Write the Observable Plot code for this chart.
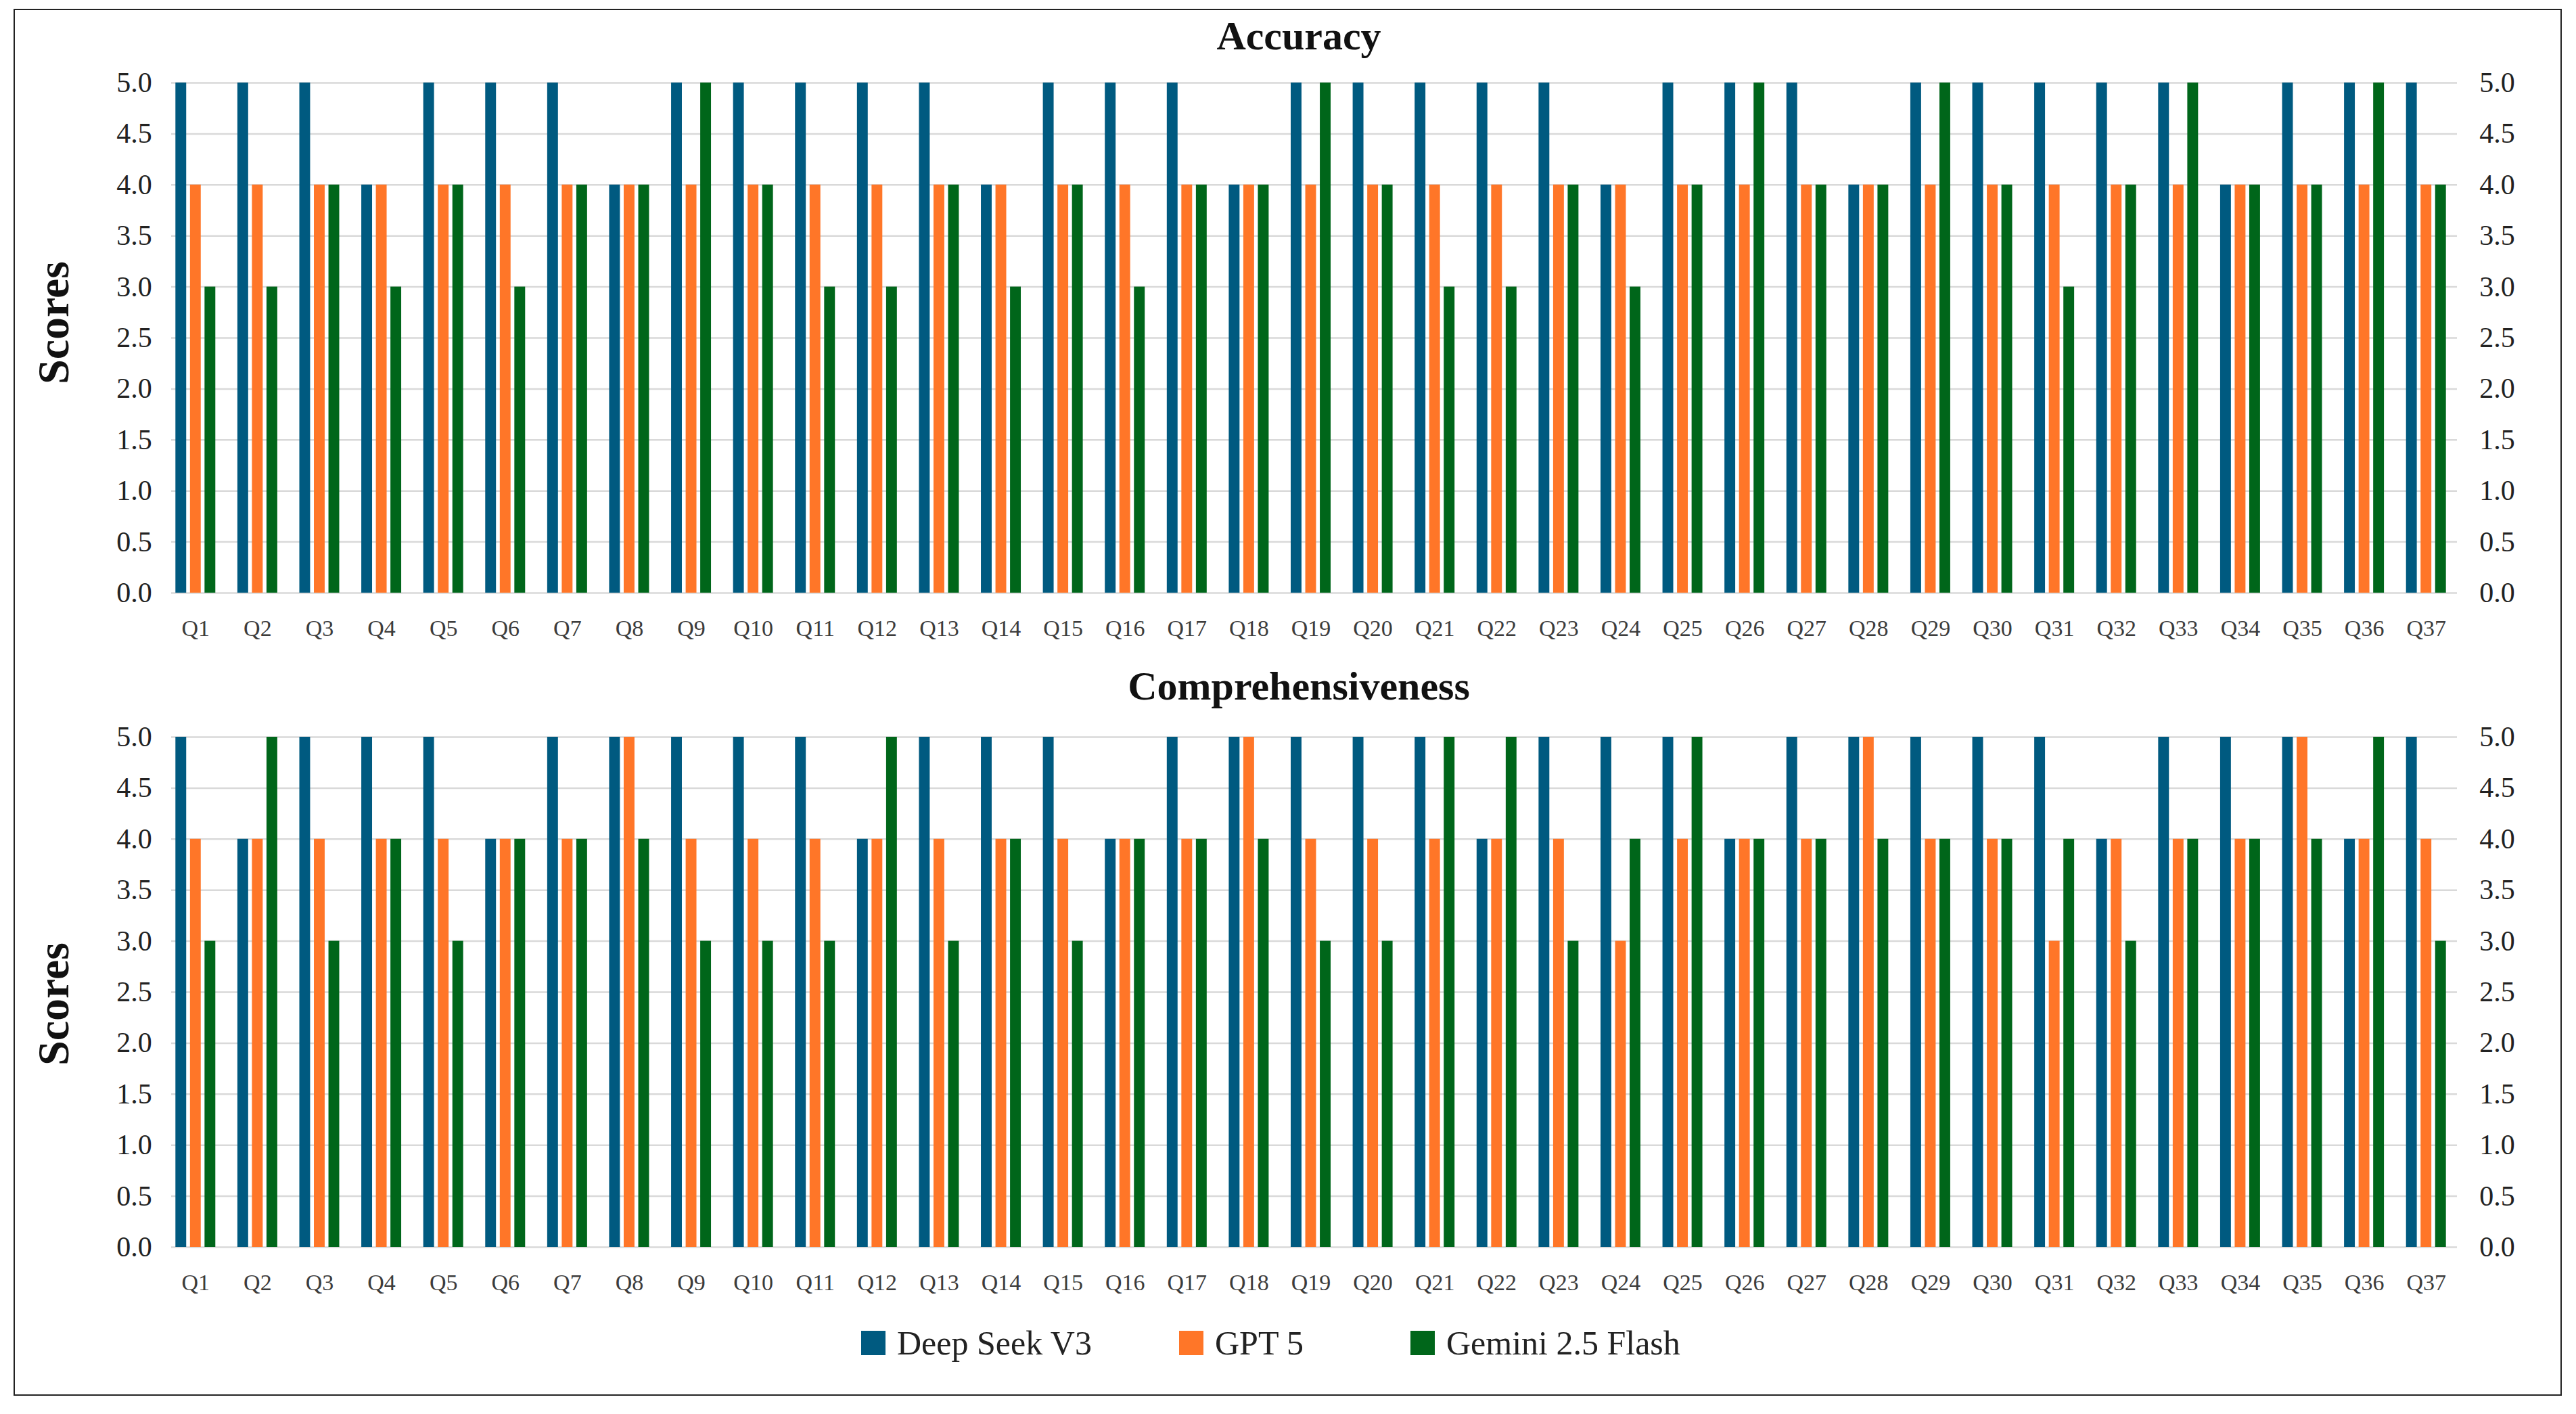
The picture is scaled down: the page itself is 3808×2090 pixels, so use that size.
<!DOCTYPE html>
<html><head><meta charset="utf-8">
<script src="https://cdn.jsdelivr.net/npm/d3@7"></script>
<script src="https://cdn.jsdelivr.net/npm/@observablehq/plot@0.6"></script>
<style>
html,body{margin:0;padding:0;background:#fff;}
body{width:3808px;height:2090px;position:relative;overflow:hidden;font-family:"Liberation Serif",serif;}
.abs{position:absolute;}
#frame{left:20px;top:13px;width:3767px;height:2050px;border:2px solid #222;box-sizing:border-box;}
.title{font-weight:bold;font-size:60px;line-height:1;color:#111;transform:translate(-50%,-50%);white-space:nowrap;}
.ylab{font-weight:bold;font-size:66px;line-height:1;color:#111;transform:translate(-50%,-50%) rotate(-90deg);white-space:nowrap;}
.leg{font-size:50px;line-height:1;color:#222;white-space:nowrap;display:flex;align-items:center;transform:translateY(-50%);}
.sw{width:36px;height:36px;display:inline-block;margin-right:17px;}
.layer{position:absolute;left:0;top:0;}
</style></head>
<body>
<div id="frame" class="abs"></div>
<div class="abs title" style="left:1920px;top:53px">Accuracy</div>
<div class="abs title" style="left:1920px;top:1014px">Comprehensiveness</div>
<div class="abs ylab" style="left:79px;top:477px">Scores</div>
<div class="abs ylab" style="left:79px;top:1484px">Scores</div>
<div id="c1" class="abs" style="left:0;top:82px;width:3808px;"></div>
<div id="c2" class="abs" style="left:0;top:1049px;width:3808px;"></div>
<div id="legend"></div>
<script>
const questions = Array.from({length: 37}, (_, i) => "Q" + (i + 1));
const models = ["Deep Seek V3", "GPT 5", "Gemini 2.5 Flash"];
const modelColors = ["#005A80", "#FF7628", "#00661A"];
const yTicks = [0, 0.5, 1, 1.5, 2, 2.5, 3, 3.5, 4, 4.5, 5];

// Accuracy scores (Q1..Q37)
const accDeepSeek = [5,5,5,4,5,5,5,4,5,5,5,5,5,4,5,5,5,4,5,5,5,5,5,4,5,5,5,4,5,5,5,5,5,4,5,5,5];
const accGPT      = [4,4,4,4,4,4,4,4,4,4,4,4,4,4,4,4,4,4,4,4,4,4,4,4,4,4,4,4,4,4,4,4,4,4,4,4,4];
const accGemini   = [3,3,4,3,4,3,4,4,5,4,3,3,4,3,4,3,4,4,5,4,3,3,4,3,4,5,4,4,5,4,3,4,5,4,4,5,4];

// Comprehensiveness scores (Q1..Q37)
const compDeepSeek = [5,4,5,5,5,4,5,5,5,5,5,4,5,5,5,4,5,5,5,5,5,4,5,5,5,4,5,5,5,5,5,4,5,5,5,4,5];
const compGPT      = [4,4,4,4,4,4,4,5,4,4,4,4,4,4,4,4,4,5,4,4,4,4,4,3,4,4,4,5,4,4,3,4,4,4,5,4,4];
const compGemini   = [3,5,3,4,3,4,4,4,3,3,3,5,3,4,3,4,4,4,3,3,5,5,3,4,5,4,4,4,4,4,4,3,4,4,4,5,3];

const W = 3808, ML = 243, MR = 176, MT = 40, PH = 754, MB = 90;
const H = MT + PH + MB;
const FONT = "Liberation Serif, serif";

function chart(el, series) {
  const data = [];
  questions.forEach((q, i) => models.forEach((m, j) => data.push({q, model: m, score: series[j][i]})));

  const grid = Plot.plot({
    width: W, height: H, marginLeft: 253, marginRight: MR, marginTop: MT, marginBottom: MB,
    y: {domain: [0, 5], axis: null},
    style: {background: "transparent"},
    marks: [Plot.ruleY(yTicks, {stroke: "#d9d9d9", strokeWidth: 2.5})]
  });
  grid.classList.add("layer");

  const bars = Plot.plot({
    width: W, height: H, marginLeft: ML, marginRight: MR, marginTop: MT, marginBottom: MB,
    fx: {domain: questions, paddingInner: 0.356, paddingOuter: 0.178, round: false, label: null},
    x: {domain: models, paddingInner: 0.26, paddingOuter: 0, round: false, axis: null},
    y: {domain: [0, 5], label: null},
    color: {domain: models, range: modelColors},
    style: {background: "transparent", fontFamily: FONT},
    marks: [
      Plot.barY(data, {fx: "q", x: "model", y: "score", fill: "model"}),
      Plot.axisFx({anchor: "bottom", tickSize: 0, tickPadding: 39, fontSize: 34, color: "#3c3c3c", label: null}),
      Plot.axisY(yTicks, {anchor: "left", tickSize: 0, tickPadding: 35, fontSize: 42, color: "#222", tickFormat: d3.format(".1f"), label: null}),
      Plot.axisY(yTicks, {anchor: "right", tickSize: 0, tickPadding: 49, fontSize: 42, color: "#222", tickFormat: d3.format(".1f"), label: null})
    ]
  });
  bars.classList.add("layer");
  el.appendChild(grid);
  el.appendChild(bars);
}

chart(document.getElementById("c1"), [accDeepSeek, accGPT, accGemini]);
chart(document.getElementById("c2"), [compDeepSeek, compGPT, compGemini]);

const legendLefts = [1273, 1743, 2085];
const legend = document.getElementById("legend");
models.forEach((m, i) => {
  const d = document.createElement("div");
  d.className = "abs leg";
  d.style.left = legendLefts[i] + "px";
  d.style.top = "1985px";
  const s = document.createElement("span");
  s.className = "sw";
  s.style.background = modelColors[i];
  d.appendChild(s);
  d.appendChild(document.createTextNode(m));
  legend.appendChild(d);
});
</script>
</body></html>
